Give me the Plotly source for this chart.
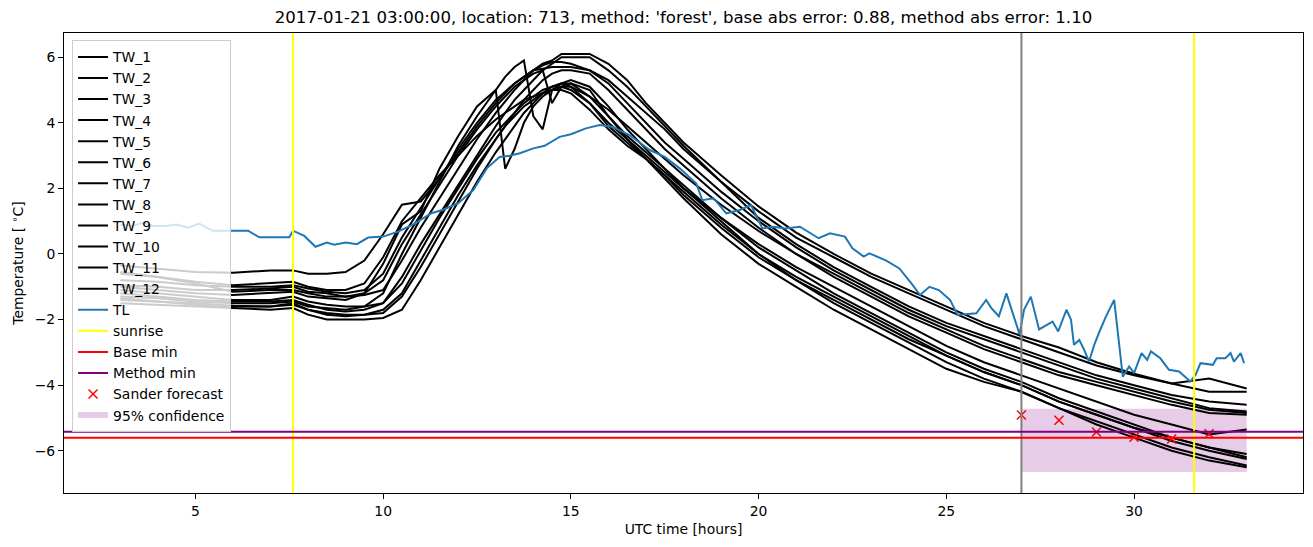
import plotly.graph_objects as go

# time grid (UTC hours) shared by the TW series
TW_HOURS = [3, 4, 5, 6, 7, 7.6, 8, 8.5, 9, 9.5, 10, 10.5, 11, 11.5, 12, 12.5,
            13, 13.25, 13.5, 13.75, 14, 14.25, 14.5, 14.75, 15,
            15.5, 16, 16.5, 17, 17.5, 18,
            19, 20, 21, 22, 23, 24, 25, 26, 27, 28, 29, 30, 31, 32, 33]

TW_1 = [-0.95, -1.0, -1.1, -1.1, -1.05, -1.0, -1.15, -1.2, -1.3, -1.25, -1.1, -0.2, 0.8, 1.7, 2.6, 3.5,
        4.3, 4.65, 5.0, 5.3, 5.6, 5.8, 5.9, 6.1, 6.1,
        6.1, 5.8, 5.3, 4.6, 4.0, 3.4,
        2.4, 1.45, 0.65, 0.0, -0.6, -1.1, -1.6, -2.1, -2.5, -2.85, -3.3, -3.65, -3.95, -3.8, -4.1]
TW_2 = [-0.35, -0.45, -0.55, -0.57, -0.5, -0.5, -0.6, -0.6, -0.55, -0.2, 0.6, 1.5, 1.6, 2.3, 3.2, 4.0,
        4.7, 4.95, 5.2, 5.4, 5.6, 5.65, 5.7, 5.7, 5.7,
        5.6, 5.3, 4.8, 4.3, 3.8, 3.2,
        2.2, 1.3, 0.5, -0.1, -0.7, -1.2, -1.7, -2.2, -2.6, -3.0, -3.4, -3.7, -3.95, -4.2, -4.2]
TW_3 = [-1.2, -1.3, -1.4, -1.45, -1.45, -1.4, -1.55, -1.7, -1.75, -1.7, -1.5, -0.7, 0.3, 1.2, 2.1, 3.0,
        3.9, 4.3, 4.7, 5.0, 5.3, 5.6, 5.8, 6.0, 6.0,
        6.0, 5.6, 5.1, 4.5, 3.9, 3.3,
        2.2, 1.1, 0.3, -0.4, -1.0, -1.6, -2.1, -2.5, -2.9, -3.3, -3.7, -4.0, -4.3, -4.5, -4.6]
TW_4 = [-0.8, -0.85, -0.95, -1.0, -1.0, -0.95, -1.05, -1.15, -1.2, -1.1, -0.6, 0.5, 1.4, 2.3, 3.1, 3.9,
        4.6, 4.9, 5.2, 5.4, 5.6, 5.75, 5.85, 5.85, 5.8,
        5.6, 5.2, 4.6, 4.0, 3.4, 2.9,
        1.9, 1.0, 0.2, -0.5, -1.1, -1.7, -2.2, -2.6, -3.0, -3.4, -3.8, -4.1, -4.4, -4.7, -4.8]
TW_5 = [-1.0, -1.1, -1.2, -1.25, -1.2, -1.15, -1.3, -1.35, -1.4, -1.2, -0.3, 0.9, 1.3, 2.6, 3.6, 4.5,
        5.0, 5.4, 5.7, 5.9, 4.2, 3.8, 5.0, 5.2, 5.1,
        4.8, 4.4, 3.9, 3.4, 2.9, 2.4,
        1.5, 0.7, 0.0, -0.6, -1.2, -1.8, -2.3, -2.8, -3.2, -3.6, -3.9, -4.2, -4.5, -4.75, -4.85]
TW_6 = [-1.35, -1.45, -1.55, -1.6, -1.6, -1.55, -1.7, -1.8, -1.85, -1.85, -1.8, -1.3, -0.4, 0.6, 1.6, 2.6,
        3.5, 3.9, 4.3, 4.7, 5.0, 5.3, 5.5, 5.6, 5.6,
        5.5, 5.0, 4.4, 3.8, 3.2, 2.7,
        1.7, 0.8, 0.0, -0.7, -1.3, -1.9, -2.4, -2.9, -3.3, -3.7, -4.0, -4.3, -4.6, -4.85, -4.9]
TW_7 = [-0.6, -0.7, -0.9, -1.15, -1.1, -1.1, -1.2, -1.3, -1.3, -1.2, -0.8, 0.3, 1.2, 2.1, 3.0, 3.8,
        4.5, 4.8, 5.1, 5.3, 5.5, 5.6, 4.6, 5.1, 5.0,
        4.6, 4.0, 3.5, 3.0, 2.5, 2.0,
        1.1, 0.3, -0.4, -1.0, -1.6, -2.2, -2.8, -3.3, -3.7, -4.1, -4.5, -4.9, -5.2, -5.5, -5.35]
TW_8 = [-1.3, -1.35, -1.45, -1.5, -1.5, -1.45, -1.6, -1.65, -1.7, -1.6, -1.2, 0.0, 1.1, 2.2, 3.3, 4.2,
        5.0, 2.6, 3.2, 4.0, 4.5, 4.8, 5.0, 5.1, 5.1,
        4.6, 3.9, 3.4, 2.9, 2.4, 1.8,
        0.8, -0.1, -0.8, -1.4, -2.0, -2.6, -3.1, -3.6, -4.0, -4.5, -4.9, -5.3, -5.6, -5.9, -6.1]
TW_9 = [-1.1, -1.2, -1.3, -1.4, -1.4, -1.3, -1.45, -1.55, -1.6, -1.6, -1.5, -0.9, 0.1, 1.1, 2.0, 2.9,
        3.7, 4.0, 4.3, 4.6, 4.8, 5.0, 5.1, 5.2, 5.2,
        4.8, 4.2, 3.6, 3.1, 2.6, 2.1,
        1.1, 0.2, -0.5, -1.2, -1.8, -2.4, -3.0, -3.5, -3.9, -4.4, -4.8, -5.2, -5.6, -5.9, -6.2]
TW_10 = [-0.55, -0.7, -0.85, -0.95, -0.9, -0.85, -1.0, -1.1, -1.1, -0.9, -0.1, 1.0, 1.7, 2.4, 3.0, 3.6,
         4.1, 4.3, 4.5, 4.7, 4.8, 4.9, 5.0, 5.0, 4.9,
         4.4, 3.8, 3.3, 2.9, 2.4, 1.9,
         0.9, 0.0, -0.7, -1.3, -1.9, -2.5, -3.1, -3.6, -4.0, -4.5, -4.9, -5.3, -5.7, -6.0, -6.25]
TW_11 = [-1.5, -1.55, -1.6, -1.65, -1.7, -1.65, -1.85, -2.0, -2.0, -2.0, -1.95, -1.7, -0.8, 0.2, 1.2, 2.2,
         3.1, 3.5, 3.9, 4.3, 4.6, 4.9, 5.1, 5.2, 5.3,
         5.1, 4.5, 3.8, 3.2, 2.6, 2.0,
         1.0, 0.0, -0.8, -1.5, -2.1, -2.7, -3.3, -3.8, -4.2, -4.7, -5.1, -5.5, -5.9, -6.2, -6.45]
TW_12 = [-1.4, -1.45, -1.5, -1.58, -1.6, -1.5, -1.7, -1.85, -1.9, -1.85, -1.7, -1.2, -0.2, 0.8, 1.8, 2.7,
         3.5, 3.9, 4.2, 4.5, 4.7, 4.9, 5.0, 5.1, 5.2,
         5.0, 4.2, 3.5, 2.9, 2.3, 1.7,
         0.6, -0.3, -1.0, -1.7, -2.3, -2.9, -3.5, -3.9, -4.2, -4.7, -5.2, -5.6, -6.0, -6.3, -6.5]

TW_SERIES = [TW_1, TW_2, TW_3, TW_4, TW_5, TW_6, TW_7, TW_8, TW_9, TW_10, TW_11, TW_12]
TW_NAMES = ['TW_%d' % (i + 1) for i in range(12)]

TL_HOURS = [3.0, 3.3, 3.6, 3.9, 4.2, 4.5, 4.8, 5.1, 5.45, 6.0, 6.4, 6.7, 7.5, 7.6, 7.9, 8.2, 8.5, 8.7, 9.0, 9.3,
            9.6, 10.0, 10.4, 10.8, 11.3, 11.6, 12.0, 12.4, 12.76, 13.1, 13.4, 13.64, 14.0, 14.3, 14.7, 15.0, 15.4, 15.77, 16.1, 16.57,
            17.1, 17.5, 17.9, 18.34, 18.5, 18.8, 19.14, 19.5, 19.8, 20.1, 20.4, 20.7, 21.1, 21.6, 21.9, 22.3, 22.5, 22.8, 22.95, 23.4,
            23.75, 24.1, 24.3, 24.55, 24.8, 25.1, 25.3, 25.8, 26.06, 26.2, 26.4, 26.6, 26.95, 27.07, 27.25, 27.47, 27.83, 27.98, 28.2, 28.32,
            28.4, 28.54, 28.67, 28.8, 28.94, 29.1, 29.25, 29.47, 29.7, 29.87, 30.0, 30.2, 30.35, 30.45, 30.7, 30.93, 31.2, 31.5, 31.64, 31.77,
            32.1, 32.2, 32.43, 32.57, 32.66, 32.84, 32.93]
TL_VALUES = [0.9, 0.85, 0.95, 0.85, 0.85, 0.9, 0.8, 0.93, 0.71, 0.71, 0.71, 0.51, 0.51, 0.71, 0.55, 0.22, 0.35, 0.28, 0.35, 0.3,
             0.5, 0.53, 0.68, 0.9, 1.25, 1.35, 1.55, 1.95, 2.61, 2.96, 3.0, 3.07, 3.22, 3.3, 3.57, 3.65, 3.83, 3.93, 3.88, 3.62,
             3.17, 2.96, 2.61, 2.15, 1.64, 1.7, 1.24, 1.34, 1.49, 0.78, 0.83, 0.78, 0.83, 0.48, 0.63, 0.53, 0.17, -0.08, 0.02, -0.2,
             -0.44, -0.94, -1.25, -1.0, -1.1, -1.4, -1.86, -1.81, -1.4, -1.65, -1.9, -1.2, -2.45, -1.7, -1.3, -2.3, -2.06, -2.36, -1.7, -2.0,
             -2.77, -2.62, -2.92, -3.28, -2.77, -2.31, -1.91, -1.4, -3.74, -3.43, -3.63, -3.02, -3.23, -2.97, -3.18, -3.53, -3.58, -3.89, -3.68, -3.33,
             -3.38, -3.18, -3.18, -3.02, -3.28, -3.02, -3.33]

SUNRISE = [7.6, 31.6]
FORECAST_START = 27
BASE_MIN = -5.6
METHOD_MIN = -5.42

FORECAST_HOURS = [27, 28, 29, 30, 31, 32]
FORECAST_VALUES = [-4.91, -5.07, -5.43, -5.59, -5.64, -5.48]

CONF_HOURS = [27, 33]
CONF_LOW = -6.65
CONF_HIGH = -4.72

TITLE = "2017-01-21 03:00:00, location: 713, method: 'forest', base abs error: 0.88, method abs error: 1.10"

fig = go.Figure()

# confidence band (drawn first, listed last in legend)
fig.add_trace(go.Scatter(
    x=[CONF_HOURS[0], CONF_HOURS[1], CONF_HOURS[1], CONF_HOURS[0], CONF_HOURS[0]],
    y=[CONF_LOW, CONF_LOW, CONF_HIGH, CONF_HIGH, CONF_LOW],
    fill='toself', fillcolor='rgba(128,0,128,0.2)', mode='none',
    name='95% confidence', legendrank=18
))

for i, (name, vals) in enumerate(zip(TW_NAMES, TW_SERIES)):
    fig.add_trace(go.Scatter(x=TW_HOURS, y=vals, mode='lines', name=name,
                             line=dict(color='black', width=2), legendrank=i + 1))

fig.add_trace(go.Scatter(x=TL_HOURS, y=TL_VALUES, mode='lines', name='TL',
                         line=dict(color='#1f77b4', width=2), legendrank=13))

# legend stand-ins for the reference lines drawn as shapes
fig.add_trace(go.Scatter(x=[None], y=[None], mode='lines', name='sunrise',
                         line=dict(color='yellow', width=2), legendrank=14))
fig.add_trace(go.Scatter(x=[None], y=[None], mode='lines', name='Base min',
                         line=dict(color='red', width=2), legendrank=15))
fig.add_trace(go.Scatter(x=[None], y=[None], mode='lines', name='Method min',
                         line=dict(color='purple', width=2), legendrank=16))

fig.add_trace(go.Scatter(x=FORECAST_HOURS, y=FORECAST_VALUES, mode='markers', name='Sander forecast',
                         marker=dict(symbol='x-thin', size=9, color='red', line=dict(color='red', width=1.5)),
                         legendrank=17))

for s in SUNRISE:
    fig.add_vline(x=s, line=dict(color='yellow', width=2), layer='above')
fig.add_vline(x=FORECAST_START, line=dict(color='grey', width=2), layer='above')
fig.add_hline(y=BASE_MIN, line=dict(color='red', width=2), layer='above')
fig.add_hline(y=METHOD_MIN, line=dict(color='purple', width=2), layer='above')

# matplotlib style 5% margins
all_x = TW_HOURS + TL_HOURS + CONF_HOURS
all_y = [v for s in TW_SERIES for v in s] + TL_VALUES + [CONF_LOW, CONF_HIGH]
xpad = 0.05 * (max(all_x) - min(all_x))
ypad = 0.05 * (max(all_y) - min(all_y))

fig.update_layout(
    width=1313, height=547,
    title=dict(text=TITLE, x=0.5, xref='paper', xanchor='center', y=1 - 17 / 547, yanchor='middle',
               font=dict(size=16.6, color='black')),
    font=dict(family='DejaVu Sans', size=13.9, color='black'),
    paper_bgcolor='white', plot_bgcolor='white',
    margin=dict(l=64, r=10, t=33, b=54),
    showlegend=True,
    legend=dict(x=0.0065, y=0.984, xanchor='left', yanchor='top',
                bgcolor='rgba(255,255,255,0.8)', bordercolor='#cccccc', borderwidth=1,
                font=dict(size=13.9), tracegroupgap=0),
)
fig.update_xaxes(range=[min(all_x) - xpad, max(all_x) + xpad], tickvals=[5, 10, 15, 20, 25, 30],
                 automargin=False,
                 showgrid=False, zeroline=False, showline=True, linecolor='black', linewidth=1, mirror=True,
                 ticks='outside', ticklen=5, tickcolor='black', tickfont=dict(size=13.9),
                 title=dict(text='UTC time [hours]', font=dict(size=13.9), standoff=6))
fig.update_yaxes(range=[min(all_y) - ypad, max(all_y) + ypad], tickvals=[-6, -4, -2, 0, 2, 4, 6],
                 automargin=False,
                 showgrid=False, zeroline=False, showline=True, linecolor='black', linewidth=1, mirror=True,
                 ticks='outside', ticklen=5, tickcolor='black', tickfont=dict(size=13.9),
                 title=dict(text='Temperature [ <sup>∘</sup>C]', font=dict(size=13.9), standoff=7))

# the page body has a default 8px margin; remove it so the figure fills the window
fig.write_html("out.html", config={'displayModeBar': False},
               post_script="document.body.style.margin='0px';")
